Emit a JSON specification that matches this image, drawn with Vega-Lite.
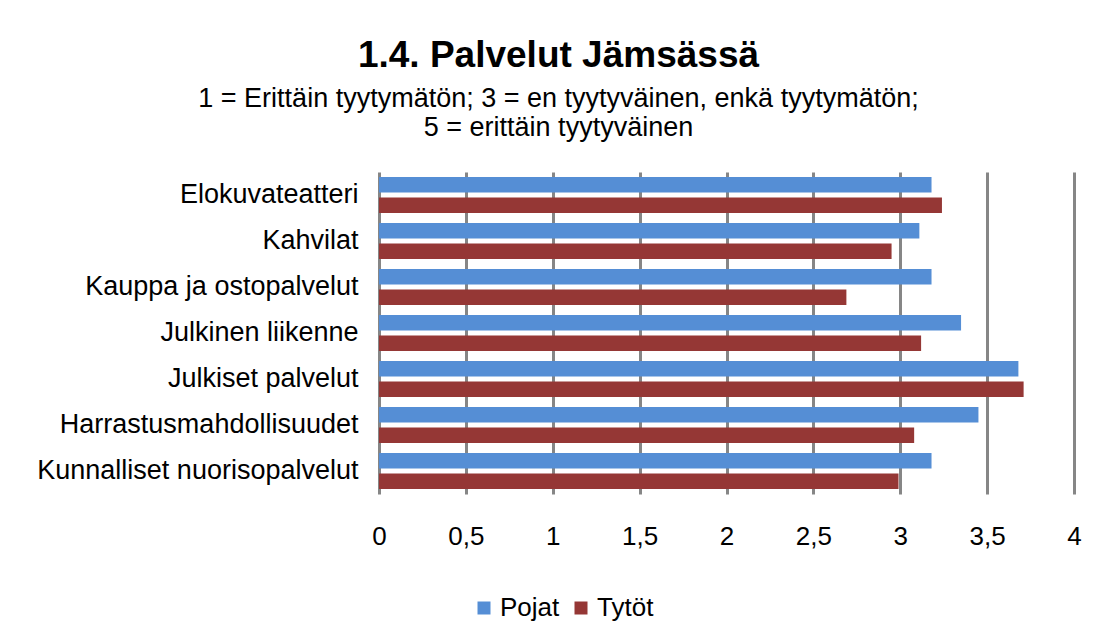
{
  "$schema": "https://vega.github.io/schema/vega-lite/v6.json",
  "width": 695,
  "height": 322,
  "autosize": "none",
  "padding": {"left": 379, "top": 172, "right": 23, "bottom": 143},
  "background": "white",
  "title": {
    "text": "1.4. Palvelut Jämsässä",
    "subtitle": ["1 = Erittäin tyytymätön; 3 = en tyytyväinen, enkä tyytymätön;", "5 = erittäin tyytyväinen"],
    "anchor": "middle",
    "frame": "group",
    "dx": -168,
    "offset": 30,
    "font": "Liberation Sans",
    "fontSize": 37,
    "fontWeight": "bold",
    "color": "black",
    "subtitleFont": "Liberation Sans",
    "subtitleFontSize": 27,
    "subtitleColor": "black",
    "subtitleLineHeight": 29,
    "subtitlePadding": 11
  },
  "data": {
    "values": [
      {"category": "Elokuvateatteri", "group": "Pojat", "value": 3.18},
      {"category": "Elokuvateatteri", "group": "Tytöt", "value": 3.24},
      {"category": "Kahvilat", "group": "Pojat", "value": 3.11},
      {"category": "Kahvilat", "group": "Tytöt", "value": 2.95},
      {"category": "Kauppa ja ostopalvelut", "group": "Pojat", "value": 3.18},
      {"category": "Kauppa ja ostopalvelut", "group": "Tytöt", "value": 2.69},
      {"category": "Julkinen liikenne", "group": "Pojat", "value": 3.35},
      {"category": "Julkinen liikenne", "group": "Tytöt", "value": 3.12},
      {"category": "Julkiset palvelut", "group": "Pojat", "value": 3.68},
      {"category": "Julkiset palvelut", "group": "Tytöt", "value": 3.71},
      {"category": "Harrastusmahdollisuudet", "group": "Pojat", "value": 3.45},
      {"category": "Harrastusmahdollisuudet", "group": "Tytöt", "value": 3.08},
      {"category": "Kunnalliset nuorisopalvelut", "group": "Pojat", "value": 3.18},
      {"category": "Kunnalliset nuorisopalvelut", "group": "Tytöt", "value": 2.99}
    ]
  },
  "mark": {"type": "bar"},
  "encoding": {
    "y": {
      "field": "category",
      "type": "nominal",
      "sort": ["Elokuvateatteri", "Kahvilat", "Kauppa ja ostopalvelut", "Julkinen liikenne", "Julkiset palvelut", "Harrastusmahdollisuudet", "Kunnalliset nuorisopalvelut"],
      "scale": {"paddingInner": 0.22, "paddingOuter": 0.11},
      "axis": {
        "title": null,
        "ticks": false,
        "domain": false,
        "labelFont": "Liberation Sans",
        "labelFontSize": 27,
        "labelColor": "black",
        "labelPadding": 21,
        "labelLimit": 400
      }
    },
    "yOffset": {
      "field": "group",
      "type": "nominal",
      "sort": ["Pojat", "Tytöt"],
      "scale": {"paddingInner": 0.25}
    },
    "x": {
      "field": "value",
      "type": "quantitative",
      "scale": {"domain": [0, 4], "nice": false},
      "axis": {
        "title": null,
        "values": [0, 0.5, 1, 1.5, 2, 2.5, 3, 3.5, 4],
        "labelExpr": "replace(toString(datum.value), '.', ',')",
        "labelFlush": false,
        "domain": false,
        "ticks": false,
        "grid": true,
        "gridColor": "#868686",
        "gridWidth": 3,
        "labelFont": "Liberation Sans",
        "labelFontSize": 26,
        "labelColor": "black",
        "labelPadding": 29
      }
    },
    "color": {
      "field": "group",
      "type": "nominal",
      "scale": {"domain": ["Pojat", "Tytöt"], "range": ["#558ED5", "#953735"]},
      "legend": {
        "title": null,
        "orient": "none",
        "legendX": 92,
        "legendY": 423,
        "direction": "horizontal",
        "symbolType": "square",
        "symbolSize": 169,
        "symbolStrokeWidth": 0,
        "labelFont": "Liberation Sans",
        "labelFontSize": 26,
        "labelColor": "black",
        "labelOffset": 3,
        "columnPadding": 8
      }
    }
  },
  "config": {"view": {"stroke": null}}
}
